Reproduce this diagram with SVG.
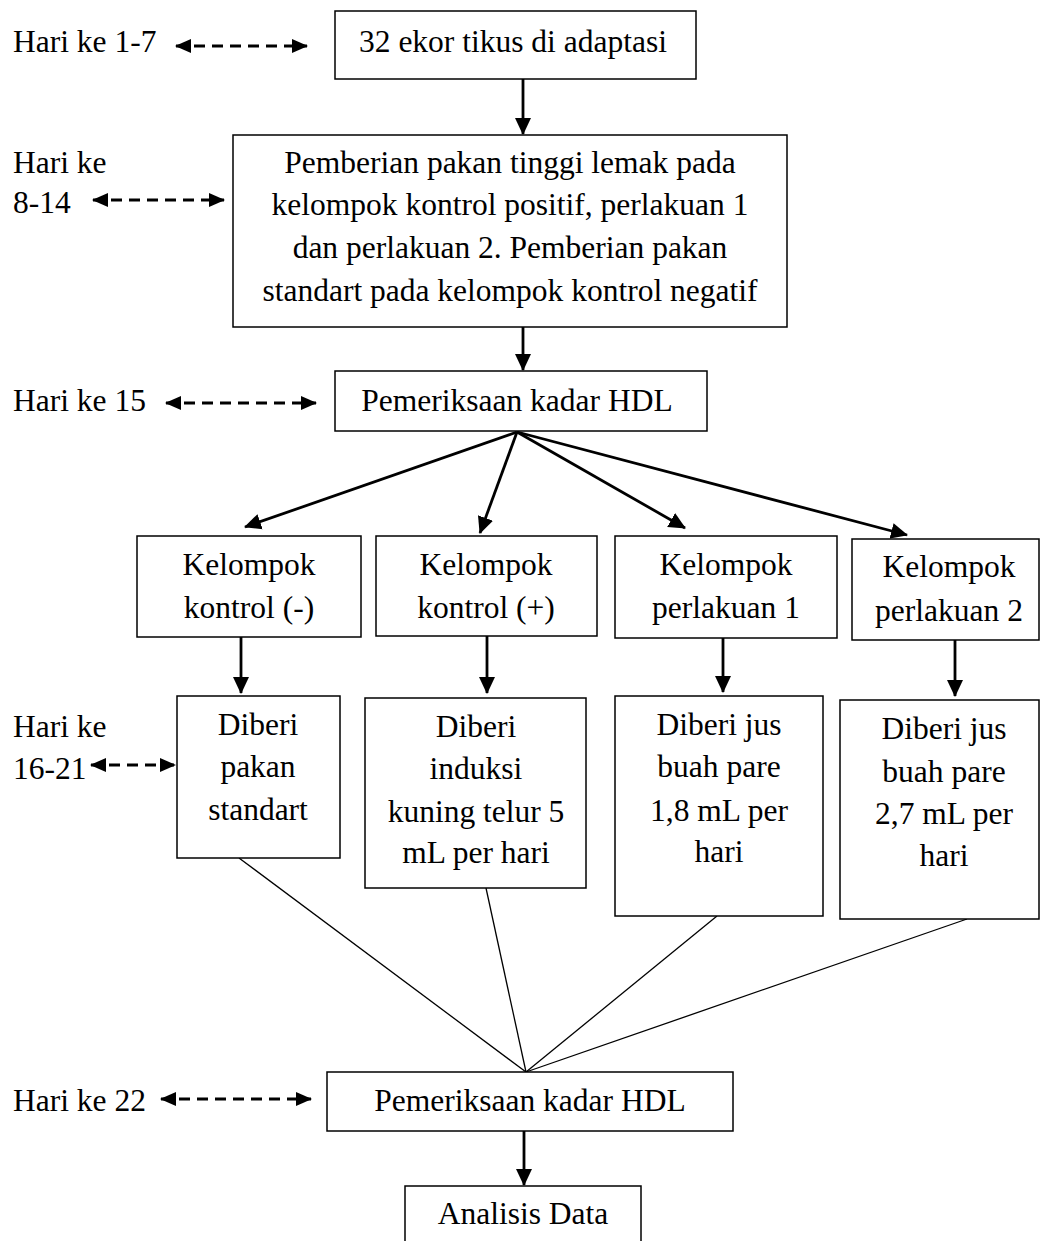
<svg xmlns="http://www.w3.org/2000/svg" width="1041" height="1241" viewBox="0 0 1041 1241">
<style>
.box{fill:#fff;stroke:#000;stroke-width:1.5}
text{font-family:"Liberation Serif","Times New Roman",serif;font-size:31.5px;fill:#000}
.c{text-anchor:middle}
.arr{stroke:#000;stroke-width:2.8;fill:none}
.dash{stroke:#000;stroke-width:3;fill:none;stroke-dasharray:11 7}
.thin{stroke:#000;stroke-width:1.3;fill:none}
</style>
<defs>
<marker id="ah" markerUnits="userSpaceOnUse" markerWidth="17" markerHeight="17" viewBox="0 0 17 17" refX="16" refY="8.5" orient="auto">
<path d="M0,0.5 L17,8.5 L0,16.5 Z" fill="#000"/>
</marker>
<marker id="dh" markerUnits="userSpaceOnUse" markerWidth="16" markerHeight="16" viewBox="0 0 16 16" refX="15" refY="8" orient="auto">
<path d="M0,1 L16,8 L0,15 Z" fill="#000"/>
</marker>
<marker id="dt" markerUnits="userSpaceOnUse" markerWidth="16" markerHeight="16" viewBox="0 0 16 16" refX="1" refY="8" orient="auto">
<path d="M16,1 L0,8 L16,15 Z" fill="#000"/>
</marker>
</defs>

<g id="labels">
<text x="13" y="52">Hari ke 1-7</text>
<text x="13" y="173">Hari ke</text>
<text x="13" y="213">8-14</text>
<text x="13" y="411">Hari ke 15</text>
<text x="13" y="737">Hari ke</text>
<text x="13" y="779">16-21</text>
<text x="13" y="1111">Hari ke 22</text>
</g>

<g id="connectors">
<line class="dash" x1="176" y1="46" x2="307" y2="46" marker-start="url(#dt)" marker-end="url(#dh)"/>
<line class="dash" x1="93" y1="200" x2="224" y2="200" marker-start="url(#dt)" marker-end="url(#dh)"/>
<line class="dash" x1="166" y1="403" x2="316" y2="403" marker-start="url(#dt)" marker-end="url(#dh)"/>
<line class="dash" x1="91" y1="765" x2="175" y2="765" marker-start="url(#dt)" marker-end="url(#dh)"/>
<line class="dash" x1="161" y1="1099" x2="311" y2="1099" marker-start="url(#dt)" marker-end="url(#dh)"/>

<line class="arr" x1="523" y1="79" x2="523" y2="134" marker-end="url(#ah)"/>
<line class="arr" x1="523" y1="327" x2="523" y2="370" marker-end="url(#ah)"/>

<line class="arr" x1="517" y1="432" x2="245" y2="527" marker-end="url(#ah)"/>
<line class="arr" x1="517" y1="432" x2="480" y2="533" marker-end="url(#ah)"/>
<line class="arr" x1="517" y1="432" x2="685" y2="528" marker-end="url(#ah)"/>
<line class="arr" x1="517" y1="432" x2="907" y2="535" marker-end="url(#ah)"/>

<line class="arr" x1="241" y1="637" x2="241" y2="693" marker-end="url(#ah)"/>
<line class="arr" x1="487" y1="636" x2="487" y2="693" marker-end="url(#ah)"/>
<line class="arr" x1="723" y1="638" x2="723" y2="692" marker-end="url(#ah)"/>
<line class="arr" x1="955" y1="640" x2="955" y2="696" marker-end="url(#ah)"/>

<line class="thin" x1="239" y1="858" x2="526" y2="1072"/>
<line class="thin" x1="486" y1="888" x2="526" y2="1072"/>
<line class="thin" x1="717" y1="916" x2="526" y2="1072"/>
<line class="thin" x1="967" y1="919" x2="526" y2="1072"/>

<line class="arr" x1="524" y1="1131" x2="524" y2="1185" marker-end="url(#ah)"/>
</g>

<g id="n-adaptasi">
<rect class="box" x="335" y="11" width="361" height="68"/>
<text class="c" x="513" y="52">32 ekor tikus di adaptasi</text>
</g>

<g id="n-pakan">
<rect class="box" x="233" y="135" width="554" height="192"/>
<text class="c" x="510" y="173">Pemberian pakan tinggi lemak pada</text>
<text class="c" x="510" y="215">kelompok kontrol positif, perlakuan 1</text>
<text class="c" x="510" y="258">dan perlakuan 2. Pemberian pakan</text>
<text class="c" x="510" y="301">standart pada kelompok kontrol negatif</text>
</g>

<g id="n-hdl1">
<rect class="box" x="335" y="371" width="372" height="60"/>
<text class="c" x="517" y="411">Pemeriksaan kadar HDL</text>
</g>

<g id="n-kneg">
<rect class="box" x="137" y="536" width="224" height="101"/>
<text class="c" x="249" y="575">Kelompok</text>
<text class="c" x="249" y="618">kontrol (-)</text>
</g>

<g id="n-kpos">
<rect class="box" x="376" y="536" width="221" height="100"/>
<text class="c" x="486" y="575">Kelompok</text>
<text class="c" x="486" y="618">kontrol (+)</text>
</g>

<g id="n-p1">
<rect class="box" x="615" y="536" width="222" height="102"/>
<text class="c" x="726" y="575">Kelompok</text>
<text class="c" x="726" y="618">perlakuan 1</text>
</g>

<g id="n-p2">
<rect class="box" x="852" y="539" width="187" height="101"/>
<text class="c" x="949" y="577">Kelompok</text>
<text class="c" x="949" y="621">perlakuan 2</text>
</g>

<g id="n-standart">
<rect class="box" x="177" y="696" width="163" height="162"/>
<text class="c" x="258" y="735">Diberi</text>
<text class="c" x="258" y="777">pakan</text>
<text class="c" x="258" y="820">standart</text>
</g>

<g id="n-induksi">
<rect class="box" x="365" y="698" width="221" height="190"/>
<text class="c" x="476" y="737">Diberi</text>
<text class="c" x="476" y="779">induksi</text>
<text class="c" x="476" y="822">kuning telur 5</text>
<text class="c" x="476" y="863">mL per hari</text>
</g>

<g id="n-jus18">
<rect class="box" x="615" y="696" width="208" height="220"/>
<text class="c" x="719" y="735">Diberi jus</text>
<text class="c" x="719" y="777">buah pare</text>
<text class="c" x="719" y="821">1,8 mL per</text>
<text class="c" x="719" y="862">hari</text>
</g>

<g id="n-jus27">
<rect class="box" x="840" y="700" width="199" height="219"/>
<text class="c" x="944" y="739">Diberi jus</text>
<text class="c" x="944" y="782">buah pare</text>
<text class="c" x="944" y="824">2,7 mL per</text>
<text class="c" x="944" y="866">hari</text>
</g>

<g id="n-hdl2">
<rect class="box" x="327" y="1072" width="406" height="59"/>
<text class="c" x="530" y="1111">Pemeriksaan kadar HDL</text>
</g>

<g id="n-analisis">
<rect class="box" x="405" y="1186" width="236" height="80"/>
<text class="c" x="523" y="1224">Analisis Data</text>
</g>
</svg>
